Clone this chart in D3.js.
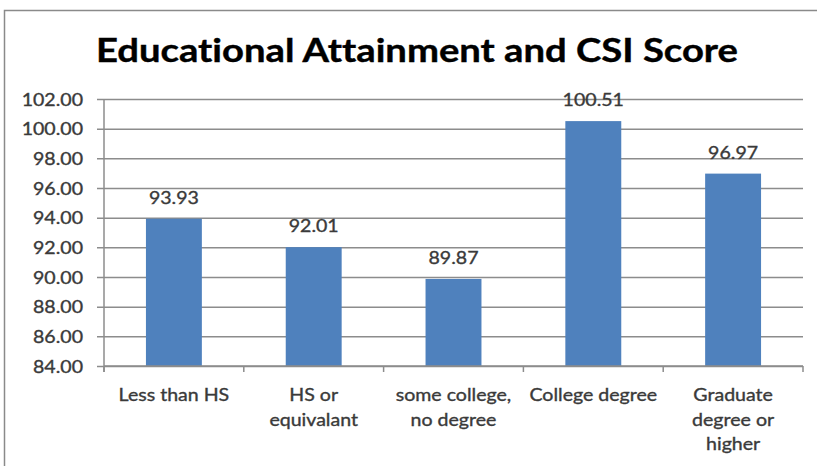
<!DOCTYPE html>
<html>
<head>
<meta charset="utf-8">
<script src="https://cdn.jsdelivr.net/npm/d3@7"></script>
<style>
  html, body { margin: 0; padding: 0; background: #fff; }
  svg { display: block; }
  text { font-family: Lato, "Open Sans", sans-serif; font-variant-ligatures: none; font-feature-settings: "liga" 0, "dlig" 0; }
  .lbl { fill: #3a3a3a; stroke: #3a3a3a; stroke-width: 0.35px; }
</style>
</head>
<body>
<svg id="chart" width="817" height="466"></svg>
<script>
// Chart data
const titleText = "Educational Attainment and CSI Score";
const categories = ["Less than HS", "HS or\nequivalant", "some college,\nno degree", "College degree", "Graduate\ndegree or\nhigher"];
const scores = [93.93, 92.01, 89.87, 100.51, 96.97];
const yTicks = [84, 86, 88, 90, 92, 94, 96, 98, 100, 102];

const W = 817, H = 466;
const plot = { left: 104, right: 803, top: 99, bottom: 366 };
const stretch = 1.15; // horizontal glyph widening for all labels

const svg = d3.select("#chart");

// widen a text element horizontally around its anchor
function widen(sel, factor) {
  sel.each(function () {
    const len = this.getComputedTextLength();
    d3.select(this).attr("textLength", len * factor).attr("lengthAdjust", "spacingAndGlyphs");
  });
}

// outer chart frame
svg.append("rect")
  .attr("x", 4.5).attr("y", 10.5)
  .attr("width", 840).attr("height", 480)
  .attr("fill", "#fff").attr("stroke", "#8a8a8a").attr("stroke-width", 1.5);

// title
svg.append("text")
  .attr("x", 417).attr("y", 62)
  .attr("text-anchor", "middle")
  .attr("font-weight", "bold")
  .attr("font-size", 33)
  .attr("fill", "#000")
  .attr("stroke", "#000").attr("stroke-width", 0.4)
  .attr("textLength", 642).attr("lengthAdjust", "spacingAndGlyphs")
  .text(titleText);

const x = d3.scaleBand().domain(categories).range([plot.left, plot.right]).paddingInner(0).paddingOuter(0);
const y = d3.scaleLinear().domain([84, 102]).range([plot.bottom, plot.top]);

// gridlines and y axis
const yAxis = svg.append("g")
  .attr("transform", `translate(${plot.left},0)`)
  .call(d3.axisLeft(y).tickValues(yTicks).tickSize(-(plot.right - plot.left)).tickSizeOuter(0).tickFormat(d3.format(".2f")));
yAxis.select(".domain").remove();
yAxis.selectAll(".tick line")
  .attr("x1", -7)
  .attr("stroke", "#8c8c8c").attr("stroke-width", 1.5);
const yLabels = yAxis.selectAll(".tick text")
  .attr("class", "lbl")
  .attr("x", -21)
  .attr("dy", "0.36em")
  .attr("font-size", 17)
  .attr("font-family", "Lato, sans-serif");
widen(yLabels, stretch);

// vertical axis line
svg.append("line")
  .attr("x1", plot.left).attr("x2", plot.left)
  .attr("y1", plot.top).attr("y2", plot.bottom + 6)
  .attr("stroke", "#8c8c8c").attr("stroke-width", 1.5);

// bars
const barW = x.bandwidth() * 0.4;
svg.append("g").selectAll("rect")
  .data(scores)
  .join("rect")
  .attr("x", (d, i) => x(categories[i]) + (x.bandwidth() - barW) / 2)
  .attr("y", d => y(d))
  .attr("width", barW)
  .attr("height", d => y(84) - y(d))
  .attr("fill", "#4f81bd");

// x axis with tick marks between categories
svg.append("line")
  .attr("x1", plot.left).attr("x2", plot.right)
  .attr("y1", plot.bottom).attr("y2", plot.bottom)
  .attr("stroke", "#8c8c8c").attr("stroke-width", 1.5);
const boundaries = categories.map(c => x(c)).concat([plot.right]);
svg.append("g").selectAll("line")
  .data(boundaries)
  .join("line")
  .attr("x1", d => d).attr("x2", d => d)
  .attr("y1", plot.bottom).attr("y2", plot.bottom + 6)
  .attr("stroke", "#8c8c8c").attr("stroke-width", 1.5);

// value labels
const valueLabels = svg.append("g").selectAll("text")
  .data(scores)
  .join("text")
  .attr("class", "lbl")
  .attr("x", (d, i) => x(categories[i]) + x.bandwidth() / 2)
  .attr("y", d => y(d) - 15)
  .attr("text-anchor", "middle")
  .attr("font-size", 17)
  .text(d => d.toFixed(2));
widen(valueLabels, stretch);

// category labels (multi-line)
const catG = svg.append("g");
categories.forEach(c => {
  c.split("\n").forEach((line, j) => {
    const t = catG.append("text")
      .attr("class", "lbl")
      .attr("x", x(c) + x.bandwidth() / 2)
      .attr("y", 401 + j * 24.5)
      .attr("text-anchor", "middle")
      .attr("font-size", 17)
      .text(line);
    widen(t, stretch);
  });
});
</script>
</body>
</html>
